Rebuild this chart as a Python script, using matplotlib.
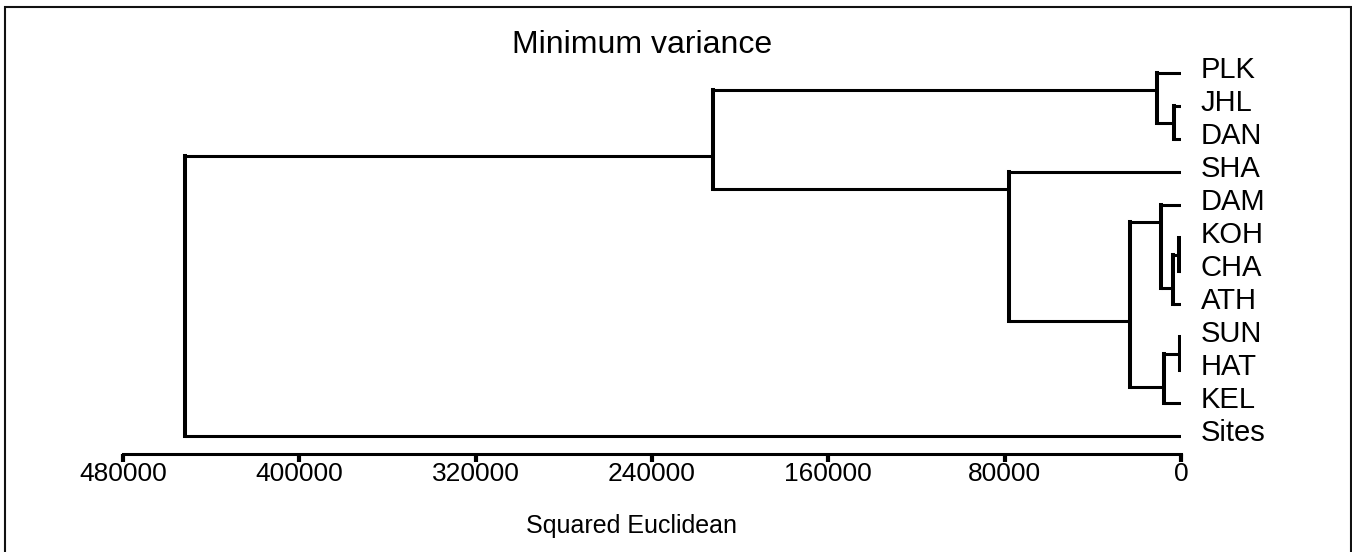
import matplotlib
matplotlib.use("Agg")
import matplotlib.pyplot as plt
from matplotlib.patches import Rectangle
from matplotlib.transforms import offset_copy


plt.rcParams['font.family'] = ['Liberation Sans', 'DejaVu Sans']

# leaf order, top to bottom
leaf_labels = ['PLK', 'JHL', 'DAN', 'SHA', 'DAM', 'KOH', 'CHA', 'ATH',
               'SUN', 'HAT', 'KEL', 'Sites']

# merges: new node ids start at len(leaf_labels)
merge_left = [1, 0, 5, 14, 4, 8, 17, 16, 3, 13, 21]
merge_right = [2, 12, 6, 7, 15, 9, 10, 18, 19, 20, 11]
merge_height = [3200, 10750, 770, 3770, 9070, 300, 7570, 23100, 77900, 212200, 451900]

x_ticks = [480000, 400000, 320000, 240000, 160000, 80000, 0]

W, H = 1352, 552


def px_x(p):
    return p / W


def px_y(p):
    return 1 - p / H


def build_nodes():
    n = len(leaf_labels)
    stem = {i: float(i) for i in range(n)}
    span = {i: (i, i) for i in range(n)}
    height = {i: 0.0 for i in range(n)}
    for k, (a, b, h) in enumerate(zip(merge_left, merge_right, merge_height)):
        node = n + k
        lo = min(span[a][0], span[b][0])
        hi = max(span[a][1], span[b][1])
        span[node] = (lo, hi)
        # stem sits on the boundary between the two children
        stem[node] = (span[a][1] + span[b][0]) / 2
        height[node] = h
    return stem, height


def main():
    fig = plt.figure(figsize=(W / 100, H / 100), dpi=100)

    ax_left, ax_right = 123, 1181
    ax_top, ax_bottom = 20, 454
    ax = fig.add_axes([px_x(ax_left), px_y(ax_bottom),
                       (ax_right - ax_left) / W, (ax_bottom - ax_top) / H])

    row0, row_gap = 73.3, 33.0
    ax.set_xlim(480000, 0)
    ax.set_ylim((ax_bottom - row0) / row_gap, (ax_top - row0) / row_gap)

    stem, height = build_nodes()
    for a, b, h in zip(merge_left, merge_right, merge_height):
        for c in (a, b):
            ax.plot([height[c], h], [stem[c], stem[c]], color='black',
                    lw=2.2, solid_capstyle='butt')
        ax.plot([h, h], [stem[a], stem[b]], color='black', lw=2.9,
                solid_capstyle='projecting')

    label_tr = offset_copy(ax.transData, fig=fig, x=20, y=-5, units='dots')
    for i, name in enumerate(leaf_labels):
        ax.text(0, i, name, transform=label_tr, fontsize=21,
                ha='left', va='baseline', clip_on=False)

    for side in ('left', 'top', 'right'):
        ax.spines[side].set_visible(False)
    ax.spines['bottom'].set_linewidth(2.2)
    ax.set_yticks([])
    ax.set_xticks(x_ticks)
    ax.set_xticklabels([str(t) for t in x_ticks])
    ax.tick_params(axis='x', direction='out', length=5.5, width=3,
                   labelsize=19, pad=0)
    ax.patch.set_visible(False)

    fig.text(px_x(642), px_y(53), 'Minimum variance', fontsize=23,
             ha='center', va='baseline')
    fig.text(px_x(632), px_y(533), 'Squared Euclidean', fontsize=18,
             ha='center', va='baseline')

    fig.patches.append(Rectangle((px_x(5), px_y(H + 10)), px_x(1351) - px_x(5),
                                 px_y(7) - px_y(H + 10), transform=fig.transFigure,
                                 fill=False, edgecolor='#111111', lw=1.5))

    fig.savefig('out.png', dpi=100)


if __name__ == '__main__':
    main()
